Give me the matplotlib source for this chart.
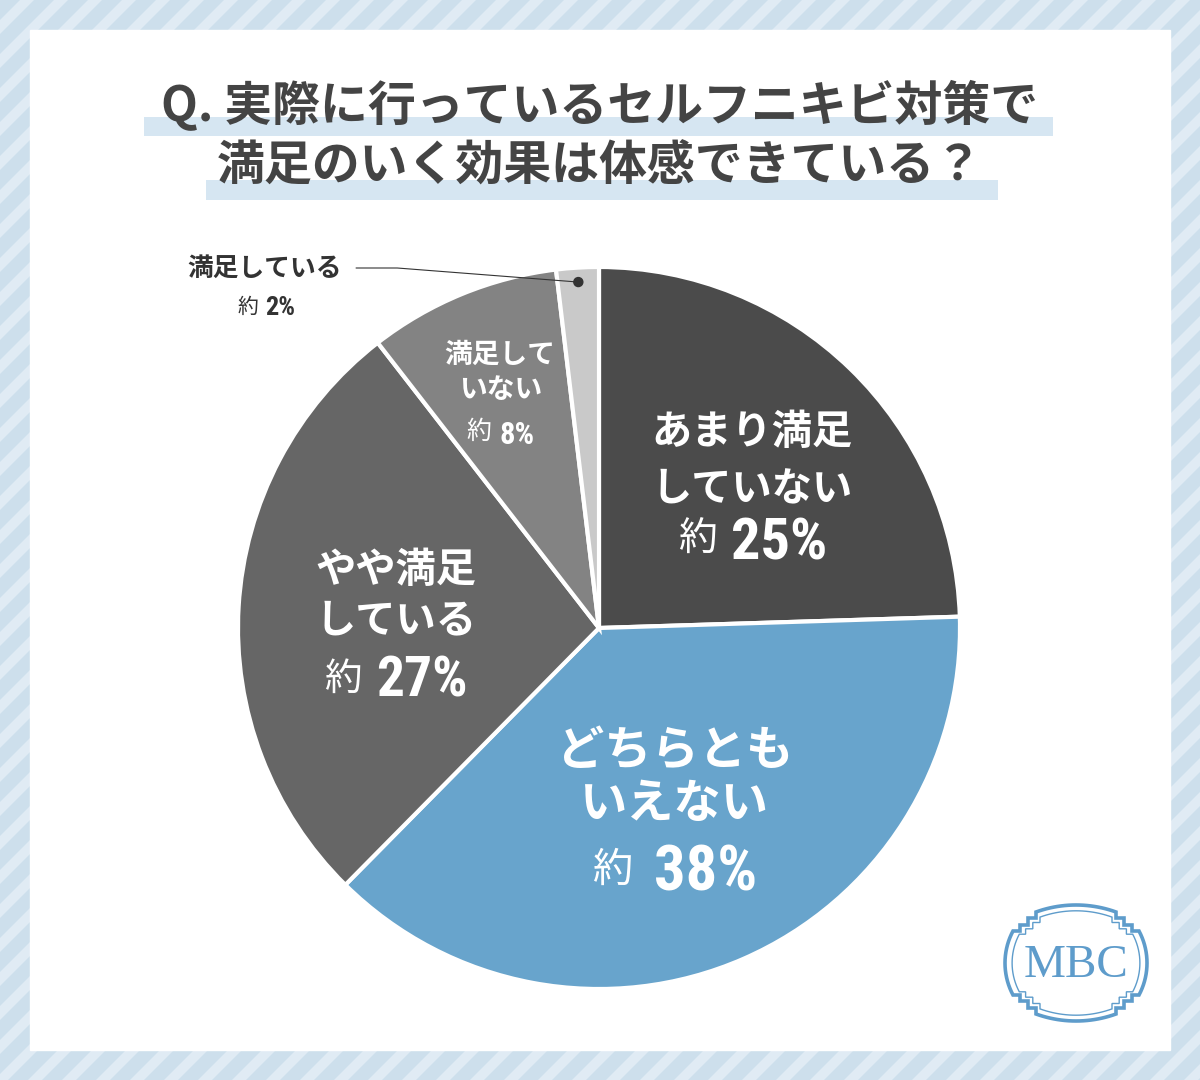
import numpy as np
import matplotlib.pyplot as plt
from matplotlib.patches import Polygon, Rectangle, Circle

plt.rcParams["font.family"] = ["Noto Sans CJK JP", "DejaVu Sans"]

## -----------------------------------------------------------------------------
# data
categories = ["あまり満足していない", "どちらともいえない", "やや満足している",
              "満足していない", "満足している"]
shares = [24.5, 37.9, 27.1, 8.6, 1.9]
share_labels = ["25%", "38%", "27%", "8%", "2%"]
label_lines = [["あまり満足", "していない"], ["どちらとも", "いえない"],
               ["やや満足", "している"], ["満足して", "いない"], ["満足している"]]
colors = ["#4b4b4b", "#68a4cc", "#666666", "#838383", "#c9c9c9"]
title_lines = ["Q. 実際に行っているセルフニキビ対策で", "満足のいく効果は体感できている？"]

W, H = 1200, 1080
text_dark = "#444444"
num_font = ["Roboto Condensed", "Barlow Condensed", "Oswald", "Roboto"]

## -----------------------------------------------------------------------------
fig = plt.figure(figsize=(12, 10.8), dpi=100)
ax = fig.add_axes([0, 0, 1, 1])
ax.set_xlim(0, W)
ax.set_ylim(0, H)
renderer = fig.canvas.get_renderer()

# striped background
ax.add_patch(Rectangle((0, 0), W, H, color="#cddfec", zorder=0))
period, sw = 34, 14
for k in range(-1400, 1400, period):
    ax.add_patch(Polygon([(-1200, -1200 - k), (2400, 2400 - k),
                          (2400 + sw, 2400 - k), (-1200 + sw, -1200 - k)],
                         closed=True, color="#e0ebf4", lw=0, zorder=0.1))
# white panel
ax.add_patch(Rectangle((30, 30), W - 60, H - 60, color="white", zorder=0.5))

# title with highlight bars
bar_pad = [(17, 14), (11, 15)]
for line, yc, (bar_lo, bar_hi), (pl, pr) in zip(title_lines, [105, 166],
                                                [(117, 136), (180, 200)], bar_pad):
    t = ax.text(W / 2, H - yc, line, fontsize=34.5, weight="bold", color=text_dark,
                ha="center", va="center", zorder=3)
    bb = t.get_window_extent(renderer)
    ax.add_patch(Rectangle((bb.x0 - pl, H - bar_hi), bb.width + pl + pr, bar_hi - bar_lo,
                           color="#d6e6f2", lw=0, zorder=2))

## -----------------------------------------------------------------------------
# pie
cx, cy, R = 599, H - 628, 361
wedges, _ = ax.pie(shares, colors=colors, startangle=90, counterclock=False,
                   radius=R, center=(cx, cy),
                   wedgeprops=dict(edgecolor="white", linewidth=3))
ax.set_xlim(0, W)
ax.set_ylim(0, H)
for w in wedges:
    w.set_zorder(2)


def yak_line(x, y_mid, y_base, num, s_yak, s_num, gap, color):
    t1 = ax.text(0, y_mid, "約", fontsize=s_yak, color=color, ha="left", va="center", zorder=4)
    t2 = ax.text(0, y_base, num, fontsize=s_num, color=color, family=num_font,
                 weight="bold", ha="left", va="baseline", zorder=4)
    w1 = t1.get_window_extent(renderer).width
    w2 = t2.get_window_extent(renderer).width
    x0 = x - (w1 + gap + w2) / 2
    t1.set_x(x0)
    t2.set_x(x0 + w1 + gap)


# (radius frac, angle shift cw, name size, line1 dy, line3 dy, number baseline dy,
#  yak size, num size, gap)
styles = [(0.575, 3.5, 29, 58, 50, 69, 28, 42, 14),
          (0.525, 0.0, 34, 53, 67, 87, 29, 45, 22),
          (0.563, -0.9, 29, 51, 58, 75, 27, 40, 14),
          (0.72, 0.0, 20, 35, 42, 54, 18, 22, 8)]

for i, st in enumerate(styles):
    frac, dang, fs, d1, d3, db, fy, fn, gap = st
    w = wedges[i]
    mid = np.deg2rad((w.theta1 + w.theta2) / 2 - dang)
    ax_x = cx + frac * R * np.cos(mid)
    ax_y = cy + frac * R * np.sin(mid) - 2
    ax.text(ax_x, ax_y + d1, label_lines[i][0], fontsize=fs, weight="bold",
            color="white", ha="center", va="center", zorder=4)
    ax.text(ax_x, ax_y, label_lines[i][1], fontsize=fs, weight="bold",
            color="white", ha="center", va="center", zorder=4)
    yak_line(ax_x, ax_y - d3, ax_y - db, share_labels[i], fy, fn, gap, "white")

# small slice: outside label with leader
w = wedges[4]
mid = np.deg2rad((w.theta1 + w.theta2) / 2)
dot_x = cx + 0.96 * R * np.cos(mid)
dot_y = cy + 0.96 * R * np.sin(mid)
t = ax.text(265, H - 268, label_lines[4][0], fontsize=18.5, weight="bold",
            color="#333333", ha="center", va="center", zorder=4)
yak_line(266, H - 307, H - 315, share_labels[4], 15, 19, 7, "#333333")
bb = t.get_window_extent(renderer)
ax.plot([bb.x1 + 14, bb.x1 + 55, dot_x], [H - 268, H - 268, dot_y],
        color="#333333", lw=0.8, zorder=4)
ax.add_patch(Circle((dot_x, dot_y), 4.5, color="#333333", zorder=5))

## -----------------------------------------------------------------------------
# MBC logo


def cartouche(x0, y0, s):
    # top arc
    rt = (40 ** 2 + 7 ** 2) / 14.0
    a_end = np.arctan2(51 + rt - 58, 40)
    th = np.linspace(np.pi / 2, a_end, 12)
    q = [(rt * np.cos(a), 58 - rt + rt * np.sin(a)) for a in th]
    q += [(40, 45), (48, 45), (48, 38), (56, 38), (56, 32), (63, 32)]
    rs = (32 ** 2 + 8 ** 2) / 16.0
    a0 = np.arctan2(32, 63 - (71 - rs))
    th = np.linspace(a0, 0, 10)
    q += [(71 - rs + rs * np.cos(a), rs * np.sin(a)) for a in th]
    q = np.array(q)
    q4 = q[::-1] * [1, -1]
    right = np.vstack([q, q4[1:]])
    left = right[::-1] * [-1, 1]
    pts = np.vstack([right, left[1:]])
    return pts * s + [x0, y0]


logo_c = "#5e9ccb"
lx, ly = 1076, H - 963
ax.add_patch(Polygon(cartouche(lx, ly, 1.0), closed=True, fill=False,
                     edgecolor=logo_c, lw=2.6, zorder=3))
ax.add_patch(Polygon(cartouche(lx, ly, 0.9), closed=True, fill=False,
                     edgecolor=logo_c, lw=1.0, zorder=3))
ax.text(lx, ly - 3, "MBC", fontsize=34, family="Liberation Serif", color=logo_c,
        ha="center", va="center", zorder=4)

ax.set_aspect("auto")
ax.axis("off")

plt.savefig("out.png", dpi=100)
